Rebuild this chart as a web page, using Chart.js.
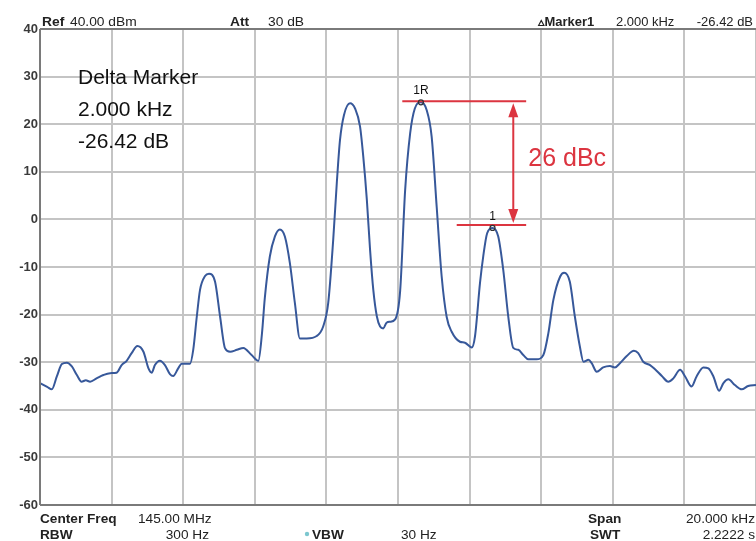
<!DOCTYPE html>
<html><head><meta charset="utf-8">
<script src="https://cdn.jsdelivr.net/npm/chart.js@4/dist/chart.umd.min.js"></script>
<style>html,body{margin:0;padding:0;background:#fff;}#wrap{width:756px;height:541px;position:relative}</style>
</head><body><div id="wrap"><canvas id="c" width="756" height="541"></canvas></div>
<script>
// ---- data (frequency offset from 145.00 MHz in kHz, level in dBm) ----
const freqKHz = [
-10.00,-9.80,-9.67,-9.53,-9.39,-9.25,-9.11,-8.97,-8.84,-8.72,-8.60,-8.42,-8.23,-8.04,-7.86,-7.72,-7.58,-7.44,-7.28,-7.11,
-6.97,-6.88,-6.79,-6.65,-6.51,-6.37,-6.28,-6.14,-6.04,-5.81,-5.72,-5.62,-5.53,-5.39,-5.28,-5.11,-4.97,-4.83,-4.69,-4.50,
-4.32,-4.09,-3.90,-3.80,-3.72,-3.58,-3.44,-3.30,-3.16,-3.02,-2.88,-2.74,-2.55,-2.27,-2.09,-1.95,-1.81,-1.71,-1.62,-1.51,
-1.34,-1.20,-1.06,-0.97,-0.87,-0.78,-0.69,-0.59,-0.50,-0.41,-0.32,-0.22,-0.08,0.06,0.20,0.34,0.47,0.64,0.80,0.94,
1.08,1.22,1.36,1.50,1.73,1.87,2.06,2.15,2.29,2.38,2.49,2.64,2.80,2.94,3.08,3.22,3.36,3.50,3.64,3.87,
4.06,4.20,4.34,4.53,4.64,4.80,4.94,5.08,5.18,5.32,5.41,5.55,5.73,5.92,6.06,6.20,6.39,6.59,6.71,6.85,
7.04,7.18,7.37,7.55,7.69,7.88,8.02,8.20,8.34,8.53,8.67,8.81,8.97,9.09,9.23,9.41,9.60,9.78,10.00];
const levelDb = [
-34.4,-35.2,-35.7,-33.0,-30.4,-30.1,-30.9,-32.7,-34.1,-33.8,-34.1,-33.4,-32.7,-32.3,-32.2,-30.6,-29.7,-28.1,-26.6,-27.8,
-31.3,-32.2,-30.6,-29.7,-30.6,-32.5,-32.9,-31.3,-30.3,-30.3,-27.4,-20.4,-14.8,-11.9,-11.4,-13.1,-20.4,-27.1,-27.8,-27.4,
-27.0,-28.5,-29.7,-24.0,-16.5,-7.8,-3.6,-2.1,-3.6,-9.2,-17.6,-25.0,-25.0,-24.5,-22.5,-17.6,-4.3,7.6,16.7,21.9,
24.4,23.3,19.5,13.2,4.1,-6.4,-14.8,-20.4,-22.5,-22.9,-21.7,-21.5,-21.0,-15.0,6.2,18.1,23.3,24.6,23.0,17.4,
2.7,-12.0,-20.5,-23.6,-25.7,-25.9,-26.9,-24.6,-13.4,-7.8,-2.9,-1.8,-3.6,-10.6,-20.4,-27.0,-27.4,-28.5,-29.4,-29.4,
-28.5,-23.9,-16.9,-12.0,-11.2,-13.1,-20.4,-26.7,-29.9,-29.5,-30.2,-32.0,-31.1,-30.8,-31.1,-30.2,-28.7,-27.6,-28.1,-29.9,
-30.6,-31.5,-32.9,-34.1,-33.4,-31.6,-33.0,-35.1,-33.0,-31.1,-31.3,-33.0,-36.0,-34.4,-33.6,-34.8,-35.7,-35.0,-34.8];
const yTickValues = [40,30,20,10,0,-10,-20,-30,-40,-50,-60];
const markerFreq = [0.64, 2.64];
const markerLevel = [24.6, -1.8];
const markerNames = ['1R', '1'];
const deltaLines = ['Delta Marker', '2.000 kHz', '-26.42 dB'];
const dbcLabel = '26 dBc';
const headerLeft = [['Ref', true], ['40.00 dBm', false], ['Att', true], ['30 dB', false]];
const headerRight = [['\u25B5Marker1', true], ['2.000 kHz', false], ['-26.42 dB', false]];
const footer1 = [['Center Freq', true], ['145.00 MHz', false], ['Span', true], ['20.000 kHz', false]];
const footer2 = [['RBW', true], ['300 Hz', false], ['VBW', true], ['30 Hz', false], ['SWT', true], ['2.2222 s', false]];

const pts = freqKHz.map((f, i) => ({x: f, y: levelDb[i]}));
const FONT = '"Liberation Sans", Arial, sans-serif';
const RED = '#dc3540';

function txt(ctx, s, x, y, size, bold, color, align, stretch) {
  ctx.save();
  ctx.font = (bold ? 'bold ' : '') + size + 'px ' + FONT;
  ctx.fillStyle = color;
  ctx.textBaseline = 'alphabetic';
  const w = ctx.measureText(s).width * stretch;
  let x0 = x;
  if (align === 'right') x0 = x - w;
  if (align === 'center') x0 = x - w / 2;
  ctx.translate(x0, y);
  ctx.scale(stretch, 1);
  ctx.textAlign = 'left';
  ctx.fillText(s, 0, 0);
  ctx.restore();
}

const overlay = {
  id: 'overlay',
  afterDatasetsDraw(chart) {
    const ctx = chart.ctx;
    const xs = chart.scales.x, ys = chart.scales.y;
    const ca = chart.chartArea;
    // frame lines
    ctx.save();
    ctx.strokeStyle = '#7a7a7a';
    ctx.lineWidth = 2;
    ctx.beginPath();
    ctx.moveTo(ca.left, ca.top); ctx.lineTo(ca.right, ca.top);
    ctx.moveTo(ca.left, ca.bottom); ctx.lineTo(ca.right, ca.bottom);
    ctx.moveTo(ca.left, ca.top); ctx.lineTo(ca.left, ca.bottom);
    ctx.stroke();
    ctx.restore();

    // delta reference lines
    const yTop = ys.getPixelForValue(markerLevel[0]) - 1;
    const yBot = ys.getPixelForValue(markerLevel[1]) - 3;
    const xEnd = xs.getPixelForValue(3.58);
    const xArrow = xs.getPixelForValue(3.22);
    ctx.save();
    ctx.strokeStyle = RED; ctx.fillStyle = RED; ctx.lineWidth = 2;
    ctx.beginPath();
    ctx.moveTo(xs.getPixelForValue(0.12), yTop); ctx.lineTo(xEnd, yTop);
    ctx.moveTo(xs.getPixelForValue(1.64), yBot); ctx.lineTo(xEnd, yBot);
    ctx.stroke();
    ctx.beginPath();
    ctx.moveTo(xArrow, yTop + 12); ctx.lineTo(xArrow, yBot - 12);
    ctx.stroke();
    ctx.beginPath();
    ctx.moveTo(xArrow, yTop + 2); ctx.lineTo(xArrow - 5, yTop + 16); ctx.lineTo(xArrow + 5, yTop + 16); ctx.closePath(); ctx.fill();
    ctx.beginPath();
    ctx.moveTo(xArrow, yBot - 2); ctx.lineTo(xArrow - 5, yBot - 16); ctx.lineTo(xArrow + 5, yBot - 16); ctx.closePath(); ctx.fill();
    ctx.restore();
    txt(ctx, dbcLabel, xArrow + 15, (yTop + yBot) / 2 + 3, 25, false, RED, 'left', 1.0);

    // markers
    markerFreq.forEach((f, i) => {
      const px = xs.getPixelForValue(f), py = ys.getPixelForValue(markerLevel[i]);
      ctx.save();
      ctx.strokeStyle = '#333'; ctx.lineWidth = 1.2;
      ctx.beginPath(); ctx.arc(px, py, 2.5, 0, Math.PI * 2); ctx.stroke();
      ctx.restore();
      txt(ctx, markerNames[i], px, py - 8, 12, false, '#111', 'center', 1.0);
    });

    // delta marker box text
    deltaLines.forEach((s, i) => {
      txt(ctx, s, 78, 84 + i * 32, 21, false, '#111', 'left', 1.0);
    });

    // header
    const hx = [42, 70, 230, 268];
    headerLeft.forEach((h, i) => txt(ctx, h[0], hx[i], 26, 12, h[1], '#222', 'left', 1.15));
    const hr = [[538, 'left'], [616, 'left'], [753, 'right']];
    headerRight.forEach((h, i) => txt(ctx, h[0], hr[i][0], 26, 12, h[1], '#222', hr[i][1], 1.08));
    // footer
    const f1 = [[40, 'left'], [138, 'left'], [588, 'left'], [755, 'right']];
    footer1.forEach((h, i) => txt(ctx, h[0], f1[i][0], 523, 13, h[1], '#222', f1[i][1], 1.05));
    const f2 = [[40, 'left'], [209, 'right'], [312, 'left'], [401, 'left'], [590, 'left'], [755, 'right']];
    footer2.forEach((h, i) => txt(ctx, h[0], f2[i][0], 539, 13, h[1], '#222', f2[i][1], 1.05));
    ctx.save();
    ctx.fillStyle = '#7cc7cf';
    ctx.beginPath(); ctx.arc(307, 534, 2.2, 0, Math.PI * 2); ctx.fill();
    ctx.restore();
  }
};

new Chart(document.getElementById('c'), {
  type: 'line',
  data: {
    datasets: [{
      data: pts,
      borderColor: '#37589a',
      borderWidth: 2,
      pointRadius: 0,
      fill: false,
      cubicInterpolationMode: 'monotone'
    }]
  },
  options: {
    responsive: false,
    animation: false,
    devicePixelRatio: 1,
    layout: {padding: {top: 29, right: 0, left: 0, bottom: 0}},
    plugins: {legend: {display: false}, tooltip: {enabled: false}},
    scales: {
      x: {
        type: 'linear', min: -10, max: 10,
        ticks: {display: false, stepSize: 2},
        grid: {color: '#c4c4c4', lineWidth: 2, drawTicks: false},
        border: {display: false},
        afterFit(s) { s.height = 36; }
      },
      y: {
        type: 'linear', min: -60, max: 40,
        afterBuildTicks(s) { s.ticks = yTickValues.map(v => ({value: v})); },
        ticks: {
          color: '#3a3a3a', padding: 2,
          font: {family: FONT, size: 13, weight: 'bold'},
          callback: v => String(v)
        },
        grid: {color: '#c4c4c4', lineWidth: 2, drawTicks: false},
        border: {display: false},
        afterFit(s) { s.width = 40; }
      }
    }
  },
  plugins: [overlay]
});
</script>
</body></html>
